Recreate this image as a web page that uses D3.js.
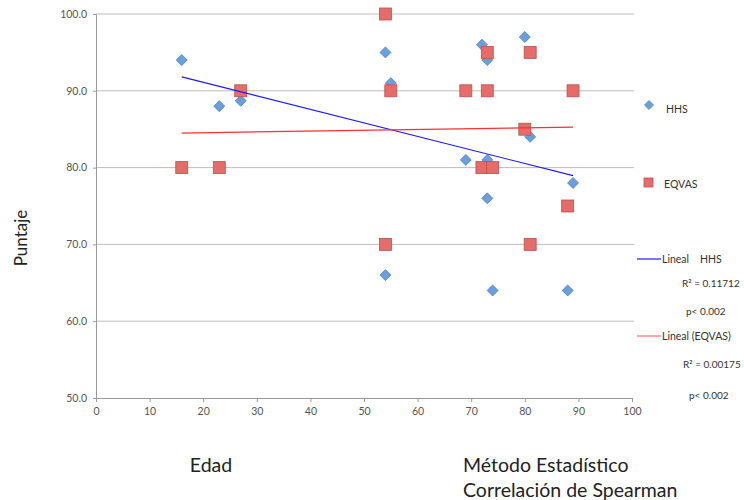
<!DOCTYPE html>
<html>
<head>
<meta charset="utf-8">
<script src="https://cdn.jsdelivr.net/npm/d3@7/dist/d3.min.js"></script>
<style>
  body { margin: 0; background: #fff; }
  text { font-family: Lato, "Open Sans", sans-serif; }
</style>
</head>
<body>
<div id="chart"></div>
<script>
// HHS points [x, y]
var hhsX = [16, 23, 27, 54, 55, 54, 69, 72, 73, 73, 73, 74, 80, 81, 88, 89];
var hhsY = [94, 88, 88.7, 95, 91, 66, 81, 96, 94, 81, 76, 64, 97, 84, 64, 78];
// EQVAS points
var eqX = [16, 23, 27, 54, 55, 54, 69, 72, 73, 73, 74, 80, 81, 81, 88, 89];
var eqY = [80, 80, 90, 100, 90, 70, 90, 80, 95, 90, 80, 85, 95, 70, 75, 90];

var xTicks = [0, 10, 20, 30, 40, 50, 60, 70, 80, 90, 100];
var yTicks = [50, 60, 70, 80, 90, 100];

var W = 744, H = 500;
var svg = d3.select('#chart').append('svg').attr('width', W).attr('height', H);

var x = d3.scaleLinear().domain([0, 100]).range([96, 632]);
var y = d3.scaleLinear().domain([50, 100]).range([398, 14]);

// gridlines
svg.append('g').selectAll('line').data(yTicks.slice(1)).enter()
  .append('line')
  .attr('x1', x(0)).attr('x2', x(100) + 2)
  .attr('y1', function(d) { return y(d); }).attr('y2', function(d) { return y(d); })
  .attr('stroke', '#bdbdbd').attr('stroke-width', 1);

// axes
var xAxis = svg.append('g').attr('transform', 'translate(0,' + y(50) + ')')
  .call(d3.axisBottom(x).tickValues(xTicks).tickSize(4).tickPadding(6).tickSizeOuter(0));
var yAxis = svg.append('g').attr('transform', 'translate(' + x(0) + ',0)')
  .call(d3.axisLeft(y).tickValues(yTicks).tickSize(3).tickPadding(6).tickSizeOuter(0)
    .tickFormat(d3.format('.1f')));
[xAxis, yAxis].forEach(function(a) {
  a.select('.domain').attr('stroke', '#999');
  a.selectAll('.tick line').attr('stroke', '#999');
  a.selectAll('.tick text').attr('fill', '#555').attr('font-size', 10.5)
    .style('font-family', 'Lato, "Open Sans", sans-serif');
});

// trend lines (least squares)
function fit(xs, ys) {
  var mx = d3.mean(xs), my = d3.mean(ys), sxy = 0, sxx = 0;
  xs.forEach(function(v, i) { sxy += (v - mx) * (ys[i] - my); sxx += (v - mx) * (v - mx); });
  var b = sxy / sxx, a = my - b * mx;
  var x0 = d3.min(xs), x1 = d3.max(xs);
  return [[x0, a + b * x0], [x1, a + b * x1]];
}
var line = d3.line().x(function(d) { return x(d[0]); }).y(function(d) { return y(d[1]); });

// markers
var diamond = d3.symbol().type(d3.symbolSquare).size(60);
svg.append('g').selectAll('path').data(d3.zip(hhsX, hhsY)).enter()
  .append('path')
  .attr('d', diamond)
  .attr('transform', function(d) { return 'translate(' + x(d[0]) + ',' + y(d[1]) + ') rotate(45)'; })
  .attr('fill', '#6a9fdc').attr('stroke', '#4f84c4').attr('stroke-width', 0.8);

svg.append('g').selectAll('rect').data(d3.zip(eqX, eqY)).enter()
  .append('rect')
  .attr('x', function(d) { return x(d[0]) - 6; })
  .attr('y', function(d) { return y(d[1]) - 6; })
  .attr('width', 12).attr('height', 12)
  .attr('fill', '#e46c6a').attr('stroke', '#c0504d').attr('stroke-width', 0.8);

svg.append('path').datum(fit(hhsX, hhsY)).attr('d', line)
  .attr('fill', 'none').attr('stroke', '#1a1aff').attr('stroke-width', 1.2);
svg.append('path').datum(fit(eqX, eqY)).attr('d', line)
  .attr('fill', 'none').attr('stroke', '#ff3030').attr('stroke-width', 1.2);

// legend
var lg = svg.append('g').attr('font-size', 10.5).attr('fill', '#333');
lg.append('path').attr('d', d3.symbol().type(d3.symbolSquare).size(40))
  .attr('transform', 'translate(649,105) rotate(45)')
  .attr('fill', '#6a9fdc').attr('stroke', '#4f84c4').attr('stroke-width', 0.8);
lg.append('text').attr('x', 666).attr('y', 113).text('HHS');
lg.append('rect').attr('x', 644).attr('y', 178).attr('width', 9).attr('height', 9)
  .attr('fill', '#e46c6a').attr('stroke', '#c0504d').attr('stroke-width', 0.8);
lg.append('text').attr('x', 664).attr('y', 188).text('EQVAS');

lg.append('line').attr('x1', 637).attr('x2', 661).attr('y1', 259).attr('y2', 259)
  .attr('stroke', '#1a1aff').attr('stroke-width', 1.2);
lg.append('text').attr('x', 662).attr('y', 263).text('Lineal');
lg.append('text').attr('x', 700).attr('y', 263).text('HHS');
lg.append('text').attr('x', 682).attr('y', 287).attr('font-size', 10).text('R² = 0.11712');
lg.append('text').attr('x', 686).attr('y', 315).attr('font-size', 10).text('p< 0.002');

lg.append('line').attr('x1', 637).attr('x2', 661).attr('y1', 336).attr('y2', 336)
  .attr('stroke', '#ff7070').attr('stroke-width', 1.2);
lg.append('text').attr('x', 662).attr('y', 340).text('Lineal (EQVAS)');
lg.append('text').attr('x', 683).attr('y', 368).attr('font-size', 10).text('R² = 0.00175');
lg.append('text').attr('x', 689).attr('y', 399).attr('font-size', 10).text('p< 0.002');

// axis titles
svg.append('text').attr('transform', 'translate(27,238) rotate(-90)')
  .attr('text-anchor', 'middle').attr('font-size', 17).attr('fill', '#222').text('Puntaje');
svg.append('text').attr('x', 211).attr('y', 472).attr('text-anchor', 'middle')
  .attr('font-size', 19.5).attr('fill', '#222').text('Edad');
svg.append('text').attr('x', 463).attr('y', 472)
  .attr('font-size', 19.5).attr('fill', '#222').text('Método Estadístico');
svg.append('text').attr('x', 463).attr('y', 497)
  .attr('font-size', 19.5).attr('fill', '#222').text('Correlación de Spearman');
</script>
</body>
</html>
